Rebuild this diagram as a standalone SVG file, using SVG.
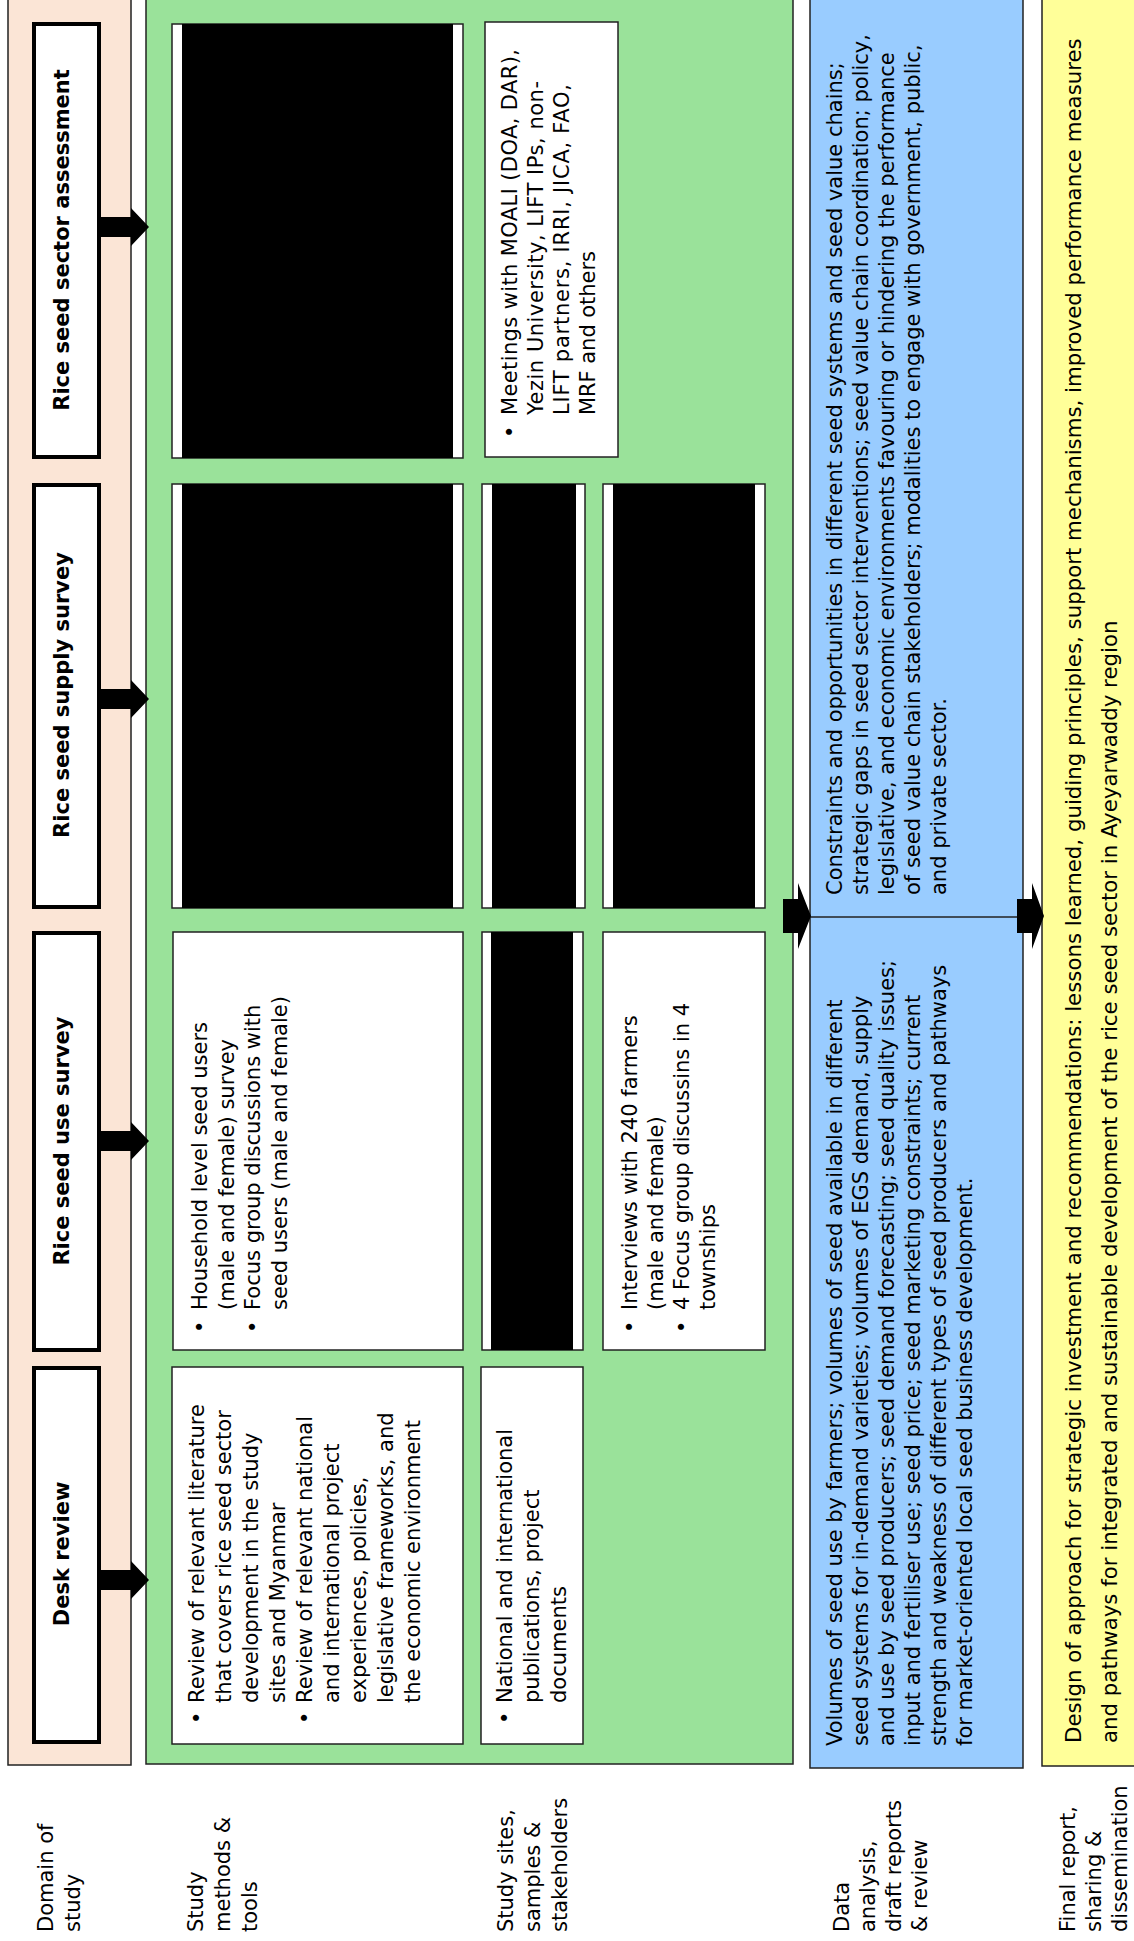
<svg xmlns="http://www.w3.org/2000/svg" width="1134" height="1941" viewBox="0 0 1134 1941">
<style>
text { font-family: "DejaVu Sans", Verdana, sans-serif; font-size: 21px; fill: #000; }
.b { font-weight: bold; }
.y { font-size: 21.3px; }
.peach { fill: #FBE5D6; stroke: #222; stroke-width: 1.5; }
.green { fill: #9AE29A; stroke: #222; stroke-width: 1.5; }
.blue { fill: #99CCFF; stroke: #222; stroke-width: 1.5; }
.yellow { fill: #FFFF99; stroke: #222; stroke-width: 1.5; }
.box { fill: #fff; stroke: #222; stroke-width: 1.5; }
.dom { fill: #fff; stroke: #000; stroke-width: 4; }
.red { fill: #000; }
.arr { fill: #000; }
.mid { text-anchor: middle; }
</style>
<rect width="1134" height="1941" fill="#fff"/>
<g transform="matrix(0,-1,1,0,0,1941)">
  <g id="panel-domain"><rect class="peach" x="176" y="8" width="1775" height="123"/></g>
  <g id="panel-methods"><rect class="green" x="177" y="146" width="1774" height="647"/></g>
  <g id="panel-analysis">
    <rect class="blue" x="173" y="810" width="1778" height="213"/>
    <line x1="1024" y1="810" x2="1024" y2="1023" stroke="#222" stroke-width="1.5"/>
  </g>
  <g id="panel-final"><rect class="yellow" x="175" y="1042" width="1776" height="110"/></g>

  <g id="labels">
    <text x="9" y="53"><tspan x="9" y="53">Domain of</tspan><tspan x="9" y="80">study</tspan></text>
    <text x="9" y="203"><tspan x="9" y="203">Study</tspan><tspan x="9" y="230">methods &amp;</tspan><tspan x="9" y="257">tools</tspan></text>
    <text x="9" y="513"><tspan x="9" y="513">Study sites,</tspan><tspan x="9" y="540">samples &amp;</tspan><tspan x="9" y="567">stakeholders</tspan></text>
    <text x="9" y="849"><tspan x="9" y="849">Data</tspan><tspan x="9" y="875">analysis,</tspan><tspan x="9" y="901">draft reports</tspan><tspan x="9" y="927">&amp; review</tspan></text>
    <text x="9" y="1075"><tspan x="9" y="1075">Final report,</tspan><tspan x="9" y="1101">sharing &amp;</tspan><tspan x="9" y="1127">dissemination</tspan></text>
  </g>

  <g id="domain-sector"><rect class="dom" x="1484" y="34" width="433" height="65"/><text class="b mid" x="1701" y="69">Rice seed sector assessment</text></g>
  <g id="domain-supply"><rect class="dom" x="1034" y="34" width="422" height="65"/><text class="b mid" x="1246" y="69">Rice seed supply survey</text></g>
  <g id="domain-use"><rect class="dom" x="591" y="34" width="417" height="65"/><text class="b mid" x="800" y="69">Rice seed use survey</text></g>
  <g id="domain-desk"><rect class="dom" x="199" y="34" width="374" height="65"/><text class="b mid" x="387" y="69">Desk review</text></g>

  <g id="sector-methods"><rect class="box" x="1483" y="172" width="434" height="291"/><rect class="red" x="1483" y="182" width="434" height="271"/></g>
  <g id="sector-stakeholders">
    <rect class="box" x="1484" y="485" width="435" height="133"/>
    <text x="1503" y="517">•</text>
    <text><tspan x="1526" y="517" textLength="366" lengthAdjust="spacing">Meetings with MOALI (DOA, DAR),</tspan><tspan x="1526" y="543" textLength="334" lengthAdjust="spacing">Yezin University, LIFT IPs, non-</tspan><tspan x="1526" y="569" textLength="331" lengthAdjust="spacing">LIFT partners, IRRI, JICA, FAO,</tspan><tspan x="1526" y="595" textLength="164" lengthAdjust="spacing">MRF and others</tspan></text>
  </g>

  <g id="supply-methods"><rect class="box" x="1033" y="172" width="424" height="291"/><rect class="red" x="1033" y="182" width="424" height="271"/></g>
  <g id="supply-sites"><rect class="box" x="1033" y="482" width="424" height="103"/><rect class="red" x="1033" y="492" width="424" height="84"/></g>
  <g id="supply-samples"><rect class="box" x="1033" y="603" width="424" height="162"/><rect class="red" x="1033" y="613" width="424" height="142"/></g>

  <g id="use-methods">
    <rect class="box" x="591" y="173" width="418" height="290"/>
    <text x="608" y="207">•</text>
    <text x="608" y="260">•</text>
    <text><tspan x="631" y="207">Household level seed users</tspan><tspan x="631" y="234">(male and female) survey</tspan><tspan x="631" y="260">Focus group discussions with</tspan><tspan x="631" y="287">seed users (male and female)</tspan></text>
  </g>
  <g id="use-sites"><rect class="box" x="591" y="482" width="418" height="101"/><rect class="red" x="591" y="491" width="418" height="82"/></g>
  <g id="use-samples">
    <rect class="box" x="591" y="603" width="418" height="162"/>
    <text x="608" y="637">•</text>
    <text x="608" y="689">•</text>
    <text><tspan x="631" y="637">Interviews with 240 farmers</tspan><tspan x="631" y="663">(male and female)</tspan><tspan x="631" y="689">4 Focus group discussins in 4</tspan><tspan x="631" y="715">townships</tspan></text>
  </g>

  <g id="desk-methods">
    <rect class="box" x="197" y="172" width="377" height="291"/>
    <text x="217" y="204">•</text>
    <text x="217" y="312">•</text>
    <text><tspan x="238" y="204">Review of relevant literature</tspan><tspan x="238" y="231">that covers rice seed sector</tspan><tspan x="238" y="258">development in the study</tspan><tspan x="238" y="285">sites and Myanmar</tspan><tspan x="238" y="312">Review of relevant national</tspan><tspan x="238" y="339">and international project</tspan><tspan x="238" y="366">experiences, policies,</tspan><tspan x="238" y="393">legislative frameworks, and</tspan><tspan x="238" y="420">the economic environment</tspan></text>
  </g>
  <g id="desk-sources">
    <rect class="box" x="197" y="481" width="377" height="102"/>
    <text x="217" y="512">•</text>
    <text><tspan x="238" y="512">National and international</tspan><tspan x="238" y="539">publications, project</tspan><tspan x="238" y="566">documents</tspan></text>
  </g>

  <g id="analysis-use">
    <text><tspan x="195" y="842">Volumes of seed use by farmers; volumes of seed available in different</tspan><tspan x="195" y="868">seed systems for in-demand varieties; volumes of EGS demand, supply</tspan><tspan x="195" y="894">and use by seed producers; seed demand forecasting; seed quality issues;</tspan><tspan x="195" y="920">input and fertiliser use; seed price; seed marketing constraints; current</tspan><tspan x="195" y="946">strength and weakness of different types of seed producers and pathways</tspan><tspan x="195" y="972">for market-oriented local seed business development.</tspan></text>
  </g>
  <g id="analysis-sector">
    <text><tspan x="1046" y="842">Constraints and opportunities in different seed systems and seed value chains;</tspan><tspan x="1046" y="868">strategic gaps in seed sector interventions; seed value chain coordination; policy,</tspan><tspan x="1046" y="894">legislative, and economic environments favouring or hindering the performance</tspan><tspan x="1046" y="920">of seed value chain stakeholders; modalities to engage with government, public,</tspan><tspan x="1046" y="946">and private sector.</tspan></text>
  </g>
  <g id="final">
    <text class="y"><tspan x="198" y="1081">Design of approach for strategic investment and recommendations: lessons learned, guiding principles, support mechanisms, improved performance measures</tspan><tspan x="198" y="1117">and pathways for integrated and sustainable development of the rice seed sector in Ayeyarwaddy region</tspan></text>
  </g>

  <g id="connectors">
    <polygon class="arr" points="1704,99 1724,99 1724,131 1733,131 1714,149 1695,131 1704,131"/>
    <polygon class="arr" points="1232,99 1252,99 1252,131 1261,131 1242,149 1223,131 1232,131"/>
    <polygon class="arr" points="790,99 810,99 810,131 819,131 800,149 781,131 790,131"/>
    <polygon class="arr" points="351,99 371,99 371,131 380,131 361,149 342,131 351,131"/>
    <polygon class="arr" points="1008,783 1042,783 1042,798 1058,798 1025,811 992,798 1008,798"/>
    <polygon class="arr" points="1008,1017 1042,1017 1042,1032 1058,1032 1025,1044 992,1032 1008,1032"/>
  </g>
</g>
</svg>
